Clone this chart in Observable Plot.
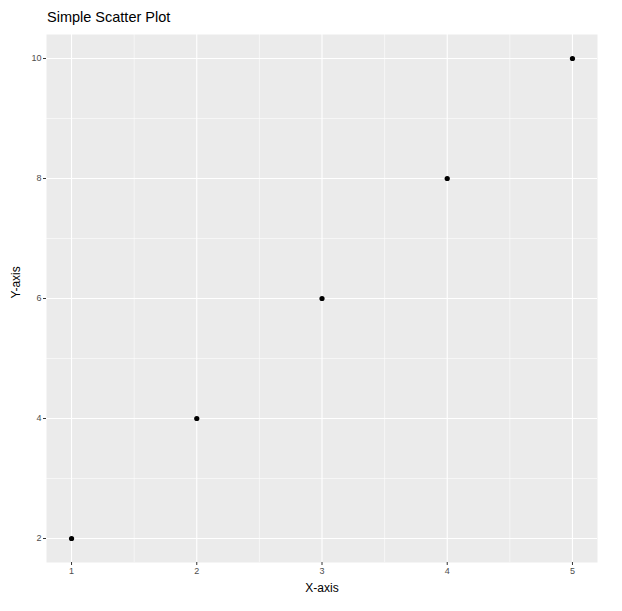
<!DOCTYPE html>
<html>
<head>
<meta charset="utf-8">
<script src="https://cdn.jsdelivr.net/npm/d3@7"></script>
<script src="https://cdn.jsdelivr.net/npm/@observablehq/plot@0.6"></script>
<style>
  body { margin: 0; background: #fff; font-family: "Liberation Sans", Arial, sans-serif; }
  #title { height: 34px; box-sizing: border-box; padding: 8px 0 0 47px; font-size: 14.5px; line-height: 18px; color: #000; }
  svg { display: block; }
</style>
</head>
<body>
<div id="title">Simple Scatter Plot</div>
<div id="chart"></div>
<script>
const xValues = [1, 2, 3, 4, 5];
const yValues = [2, 4, 6, 8, 10];
const xTicks = [1, 2, 3, 4, 5];
const yTicks = [2, 4, 6, 8, 10];
const xMinor = [1.5, 2.5, 3.5, 4.5];
const yMinor = [3, 5, 7, 9];

const data = xValues.map((x, i) => ({x, y: yValues[i]}));

const chart = Plot.plot({
  width: 622,
  height: 577,
  marginTop: 0,
  marginLeft: 46,
  marginRight: 25,
  marginBottom: 49,
  style: { fontFamily: "Liberation Sans, Arial, sans-serif", background: "#fff" },
  x: { domain: [0.8, 5.2] },
  y: { domain: [1.6, 10.4] },
  marks: [
    Plot.frame({ fill: "#ebebeb" }),
    Plot.ruleX(xMinor, { stroke: "white", strokeWidth: 0.55 }),
    Plot.ruleY(yMinor, { stroke: "white", strokeWidth: 0.55 }),
    Plot.ruleX(xTicks, { stroke: "white", strokeWidth: 1.1 }),
    Plot.ruleY(yTicks, { stroke: "white", strokeWidth: 1.1 }),
    Plot.axisX({ ticks: xTicks, tickFormat: "d", tickSize: 3, tickPadding: 2, stroke: "#333", fill: "#4d4d4d", fontSize: 9, label: null }),
    Plot.axisY({ ticks: yTicks, tickFormat: "d", tickSize: 3, tickPadding: 2, stroke: "#333", fill: "#4d4d4d", fontSize: 9, label: null }),
    Plot.dot(data, { x: "x", y: "y", r: 2.6, fill: "black", stroke: "none" }),
    Plot.text(["X-axis"], { frameAnchor: "bottom", lineAnchor: "middle", dy: 26, fontSize: 12, fill: "#000" }),
    Plot.text(["Y-axis"], { frameAnchor: "left", lineAnchor: "middle", dx: -30, rotate: -90, fontSize: 12, fill: "#000" })
  ]
});
document.getElementById("chart").appendChild(chart);
</script>
</body>
</html>
